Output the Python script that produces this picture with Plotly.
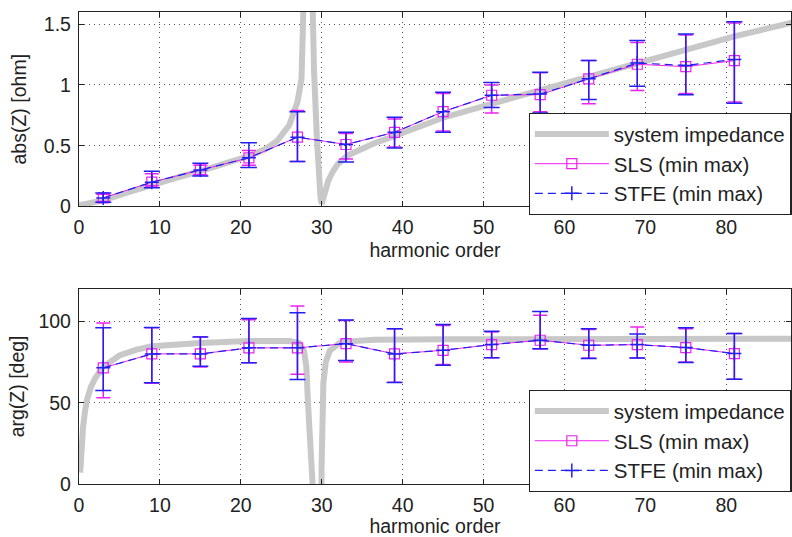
import plotly.graph_objects as go
from plotly.subplots import make_subplots

# ---------------- data ----------------
harmonics = [3, 9, 15, 21, 27, 33, 39, 45, 51, 57, 63, 69, 75, 81]

abs_sls = [0.07, 0.20, 0.30, 0.40, 0.57, 0.51, 0.61, 0.78, 0.915, 0.92, 1.05, 1.17, 1.15, 1.20]
abs_sls_min = [0.04, 0.17, 0.26, 0.34, 0.37, 0.39, 0.49, 0.62, 0.77, 0.78, 0.845, 0.955, 0.93, 0.86]
abs_sls_max = [0.10, 0.27, 0.34, 0.46, 0.79, 0.60, 0.72, 0.93, 1.00, 1.10, 1.20, 1.35, 1.41, 1.51]

abs_stfe = [0.07, 0.20, 0.30, 0.40, 0.57, 0.51, 0.61, 0.78, 0.915, 0.925, 1.05, 1.18, 1.16, 1.21]
abs_stfe_min = [0.035, 0.155, 0.25, 0.32, 0.37, 0.365, 0.48, 0.61, 0.815, 0.77, 0.88, 0.99, 0.92, 0.85]
abs_stfe_max = [0.11, 0.29, 0.355, 0.525, 0.78, 0.61, 0.735, 0.94, 1.02, 1.105, 1.20, 1.365, 1.42, 1.52]

arg_sls = [71.4, 80.0, 80.0, 83.7, 83.7, 86.3, 80.0, 82.2, 85.7, 88.4, 85.3, 85.7, 83.9, 80.2]
arg_sls_min = [53.0, 62.0, 72.0, 74.5, 67.5, 75.0, 62.5, 73.5, 77.7, 83.0, 77.5, 77.5, 75.0, 64.4]
arg_sls_max = [99.0, 96.0, 90.5, 101.0, 109.4, 100.5, 95.5, 97.5, 93.5, 103.7, 95.0, 96.6, 95.5, 92.5]

arg_stfe = [71.4, 80.0, 80.0, 83.7, 83.7, 86.3, 80.0, 82.2, 85.7, 88.4, 85.3, 85.7, 83.9, 80.2]
arg_stfe_min = [57.5, 62.2, 72.4, 74.5, 64.2, 75.9, 62.4, 73.0, 77.7, 83.2, 77.1, 77.5, 74.7, 64.4]
arg_stfe_max = [96.0, 96.3, 90.4, 101.7, 105.3, 100.8, 95.5, 98.0, 93.9, 106.0, 95.5, 92.3, 96.0, 92.5]

# system impedance curve
sys_abs_h = [0, 1.5, 3, 6, 9, 12, 15, 18, 21, 23, 24.5, 26, 27, 27.5, 28, 28.3, 28.5,
             28.7, 28.85, 29.05, 29.4, 29.65, 29.85, 30.0, 30.2, 30.5, 30.8, 31.4, 32, 33.2,
             36.5, 39, 45, 51, 57, 63, 69, 75, 81, 88, 90]
sys_abs = [0.01, 0.03, 0.05, 0.115, 0.18, 0.235, 0.29, 0.35, 0.415, 0.47, 0.54, 0.67, 0.86, 1.05,
           1.45, 2.4, 3.5, 2.2, 1.6, 1.11, 0.565, 0.22, 0.07, 0.02, 0.08, 0.16, 0.21, 0.29, 0.35,
           0.42, 0.52, 0.58, 0.73, 0.845, 0.955, 1.065, 1.18, 1.295, 1.40, 1.51, 1.54]

sys_arg_h = [0.15, 0.3, 0.5, 0.75, 1.0, 1.5, 2, 3, 5, 7, 9, 15, 21, 26, 27.2, 27.8, 28.1, 28.3,
             28.45, 28.55, 29.9, 29.98, 30.05, 30.2, 30.5, 31.0, 32.4, 36.5, 45, 60, 88, 90]
sys_arg = [7, 22, 35, 45, 52, 60, 65, 72, 79, 82.5, 84.7, 86.7, 88, 88, 86.8, 82, 72, 50,
           10, -90, -90, 10, 40, 62, 75, 82, 87.4, 88.7, 89, 89.2, 89.3, 89.3]

# ---------------- styling ----------------
FONT = "Liberation Sans, Arial, sans-serif"
GRAY = "#c8c8c8"
MAG = "#f020f0"
BLUE = "#2020f0"
TXT = "#222"

fig = make_subplots(rows=2, cols=1, shared_xaxes=False, vertical_spacing=0.0)


def diff(a, b):
    return [x - y for x, y in zip(a, b)]


def add_set(row, sys_h, sys_v, sls, smin, smax, stfe, tmin, tmax, legend):
    fig.add_trace(go.Scatter(x=sys_h, y=sys_v, mode="lines", name="system impedance",
                             line=dict(color=GRAY, width=6), legend=legend), row=row, col=1)
    fig.add_trace(go.Scatter(
        x=harmonics, y=sls, mode="lines+markers", name="SLS (min max)",
        line=dict(color=MAG, width=1),
        marker=dict(symbol="square-open", size=10, color=MAG, line=dict(width=1.2, color=MAG)),
        error_y=dict(type="data", symmetric=False, array=diff(smax, sls), arrayminus=diff(sls, smin),
                     color=MAG, thickness=1.5, width=7),
        legend=legend), row=row, col=1)
    fig.add_trace(go.Scatter(
        x=harmonics, y=stfe, mode="lines+markers", name="STFE (min max)",
        line=dict(color=BLUE, width=1.2, dash="8px,5px"),
        marker=dict(symbol="cross-thin-open", size=10, color=BLUE, line=dict(width=1.5, color=BLUE)),
        error_y=dict(type="data", symmetric=False, array=diff(tmax, stfe), arrayminus=diff(stfe, tmin),
                     color=BLUE, thickness=1.5, width=8),
        legend=legend), row=row, col=1)


add_set(1, sys_abs_h, sys_abs, abs_sls, abs_sls_min, abs_sls_max,
        abs_stfe, abs_stfe_min, abs_stfe_max, "legend")
add_set(2, sys_arg_h, sys_arg, arg_sls, arg_sls_min, arg_sls_max,
        arg_stfe, arg_stfe_min, arg_stfe_max, "legend2")

axis_common = dict(
    showline=True, linecolor=TXT, linewidth=1.3, mirror="ticks",
    ticks="inside", ticklen=5, tickwidth=1, tickcolor=TXT,
    showgrid=True, gridcolor="#555", griddash="1px,4px", gridwidth=1,
    zeroline=False, tickfont=dict(family=FONT, size=19.5, color=TXT),
)

x_ticks = [0, 10, 20, 30, 40, 50, 60, 70, 80]
for r, so in ((1, 6), (2, 8)):
    fig.update_xaxes(range=[0, 88], tickvals=x_ticks, ticklabelstandoff=3,
                     title=dict(text="harmonic order", font=dict(family=FONT, size=19.5, color=TXT),
                                standoff=so),
                     row=r, col=1, **axis_common)

fig.update_yaxes(range=[0, 1.6], tickvals=[0, 0.5, 1, 1.5], ticktext=["0", "0.5", "1", "1.5"],
                 ticklabelstandoff=3,
                 title=dict(text="abs(Z) [ohm]", font=dict(family=FONT, size=19.5, color=TXT),
                            standoff=12),
                 row=1, col=1, **axis_common)
fig.update_yaxes(range=[0, 120], tickvals=[0, 50, 100], ticklabelstandoff=3,
                 title=dict(text="arg(Z) [deg]", font=dict(family=FONT, size=19.5, color=TXT),
                            standoff=8),
                 row=2, col=1, **axis_common)

legend_common = dict(x=0.6315, xanchor="left", yanchor="top", bgcolor="white",
                     bordercolor=TXT, borderwidth=1.2,
                     font=dict(family=FONT, size=20.5, color=TXT),
                     itemwidth=74, tracegroupgap=0)

fig.update_layout(
    width=792, height=537,
    margin=dict(l=79, r=0, t=12, b=51),
    paper_bgcolor="white", plot_bgcolor="white",
    font=dict(family=FONT, size=19.5, color=TXT),
    xaxis=dict(domain=[0, 1]), xaxis2=dict(domain=[0, 1]),
    yaxis=dict(domain=[0.588, 1.0]), yaxis2=dict(domain=[0.0, 0.4135]),
    legend=dict(y=0.786, **legend_common),
    legend2=dict(y=0.199, **legend_common),
    showlegend=True,
)

fig.write_html("out.html")
